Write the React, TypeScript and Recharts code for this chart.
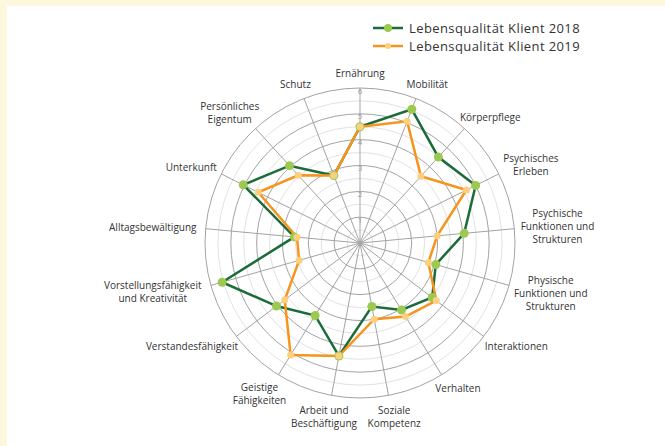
import React from 'react';
import { RadarChart, Radar, PolarGrid, PolarAngleAxis, PolarRadiusAxis, Legend } from 'recharts';

const categories = [
  'Ernährung',
  'Mobilität',
  'Körperpflege',
  'Psychisches\nErleben',
  'Psychische\nFunktionen und\nStrukturen',
  'Physische\nFunktionen und\nStrukturen',
  'Interaktionen',
  'Verhalten',
  'Soziale\nKompetenz',
  'Arbeit und\nBeschäftigung',
  'Geistige\nFähigkeiten',
  'Verstandesfähigkeit',
  'Vorstellungsfähigkeit\nund Kreativität',
  'Alltagsbewältigung',
  'Unterkunft',
  'Persönliches\nEigentum',
  'Schutz',
];

const klient2018 = [4.5, 5.55, 4.5, 5.0, 4.05, 3.05, 3.5, 3.05, 2.5, 4.45, 3.3, 4.05, 5.55, 2.55, 5.05, 4.05, 2.8];
const klient2019 = [4.5, 5.05, 3.5, 4.6, 3.0, 2.75, 3.7, 3.35, 3.0, 4.45, 5.1, 3.65, 2.45, 2.45, 4.4, 3.55, 2.8];

const majorTicks = [1, 2, 3, 4, 5, 6];
const minorTicks = [0.5, 1.5, 2.5, 3.5, 4.5, 5.5];

const data = categories.map((name, i) => ({
  name,
  k2018: klient2018[i],
  k2019: klient2019[i],
}));

const W = 658;
const H = 440;
const CX = 353;
const CY = 237;
const OUTER = 155;
const MAX = 6;
const FONT = '"Open Sans", "Noto Sans", sans-serif';

const GREEN = '#1b6b3b';
const GREEN_DOT = '#9cc94f';
const ORANGE = '#f7941d';
const ORANGE_DOT = '#fcd07e';

function AngleTick(props: any) {
  const { payload } = props;
  const deg = payload.coordinate;
  const rad = (deg * Math.PI) / 180;
  const cos = Math.cos(rad);
  const sin = Math.sin(rad);
  const lines: string[] = String(payload.value).split('\n');
  const lh = 13;
  const w = Math.max(...lines.map((l) => l.length)) * 4.9;
  const h = lines.length * lh;
  const r = OUTER + 9;
  const ax = CX + r * cos;
  const ay = CY - r * sin;
  const bx = ax + (cos * w) / 2;
  const by = ay - (sin * h) / 2;
  return (
    <text x={bx} y={by} textAnchor="middle" fontSize={10} fill="#333" fontFamily={FONT}>
      {lines.map((l, i) => (
        <tspan key={i} x={bx} y={by - h / 2 + lh * (i + 0.5)} dominantBaseline="central">
          {l}
        </tspan>
      ))}
    </text>
  );
}

function RadiusTick(props: any) {
  const { x, y, payload } = props;
  if (payload.value === 0) return <g />;
  return (
    <text x={x} y={y + 2} textAnchor="middle" dominantBaseline="central" fontSize={8} fill="#9a9a9a" fontFamily={FONT}>
      {payload.value}
    </text>
  );
}

function LegendContent() {
  const items = [
    { label: 'Lebensqualität Klient 2018', line: GREEN, dot: GREEN_DOT, r: 4 },
    { label: 'Lebensqualität Klient 2019', line: ORANGE, dot: ORANGE_DOT, r: 3 },
  ];
  return (
    <div style={{ fontFamily: FONT, fontSize: 13, letterSpacing: 0.4, color: '#333', lineHeight: '18px' }}>
      {items.map((it) => (
        <div key={it.label} style={{ display: 'flex', alignItems: 'center', height: 18 }}>
          <svg width={36} height={12} style={{ marginRight: 1 }}>
            <line x1={1} y1={6} x2={31} y2={6} stroke={it.line} strokeWidth={2.5} />
            <circle cx={16} cy={6} r={it.r} fill={it.dot} />
          </svg>
          <span>{it.label}</span>
        </div>
      ))}
    </div>
  );
}

export default function App() {
  return (
    <div style={{ position: 'fixed', left: 0, top: 0, width: 665, height: 446, background: '#fbf8de' }}>
      <div style={{ position: 'absolute', left: 7, top: 6, width: W, height: H, background: '#fff' }}>
        <RadarChart width={W} height={H} data={data} cx={CX} cy={CY} outerRadius={OUTER} startAngle={90} endAngle={-270}>
          <PolarGrid
            gridType="circle"
            radialLines={false}
            polarRadius={minorTicks.map((t) => (t / MAX) * OUTER)}
            stroke="#e2e2e2"
            strokeWidth={1}
          />
          <PolarGrid
            gridType="circle"
            polarRadius={majorTicks.map((t) => (t / MAX) * OUTER)}
            stroke="#a3a3a3"
            strokeWidth={1}
          />
          <PolarAngleAxis dataKey="name" tick={<AngleTick />} tickLine={false} axisLine={false} />
          <PolarRadiusAxis
            angle={90}
            domain={[0, MAX]}
            tickCount={7}
            axisLine={false}
            tickLine={false}
            tick={<RadiusTick />}
          />
          <Radar
            dataKey="k2018"
            name="Lebensqualität Klient 2018"
            stroke={GREEN}
            strokeWidth={2.5}
            fill="none"
            fillOpacity={0}
            dot={{ r: 4.5, fill: GREEN_DOT, stroke: 'none', fillOpacity: 1 }}
            isAnimationActive={false}
          />
          <Radar
            dataKey="k2019"
            name="Lebensqualität Klient 2019"
            stroke={ORANGE}
            strokeWidth={2.5}
            fill="none"
            fillOpacity={0}
            dot={{ r: 3.5, fill: ORANGE_DOT, stroke: 'none', fillOpacity: 1 }}
            isAnimationActive={false}
          />
          <Legend
            content={<LegendContent />}
            wrapperStyle={{ position: 'absolute', left: 365, top: 13, width: 250 }}
          />
        </RadarChart>
      </div>
    </div>
  );
}
